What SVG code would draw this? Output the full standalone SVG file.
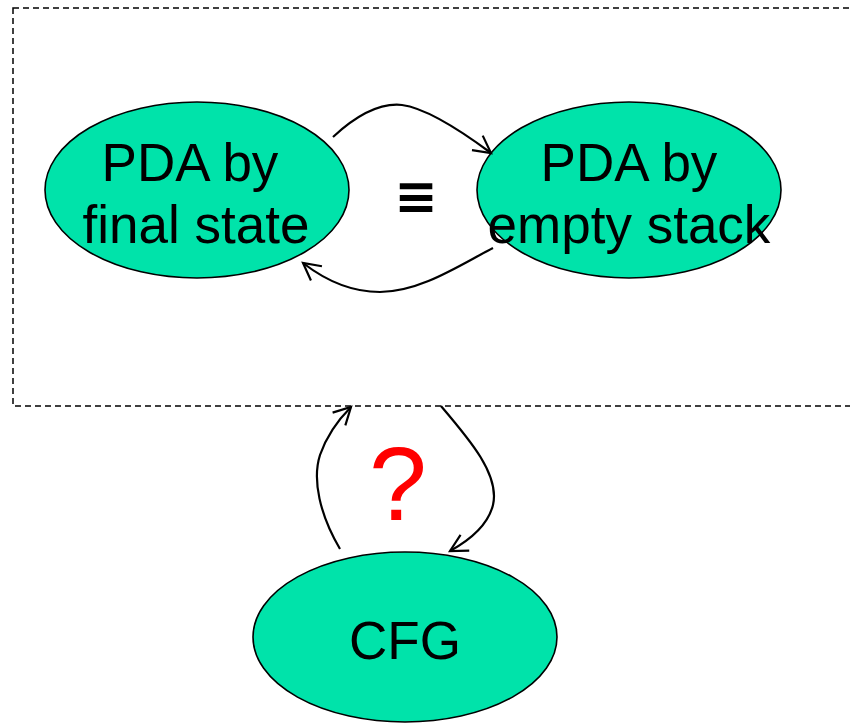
<svg xmlns="http://www.w3.org/2000/svg" width="850" height="725" viewBox="0 0 850 725">
<style>
.node{fill:#00E3AA;stroke:#000;stroke-width:1.6}
.lbl{font-family:"Liberation Sans",Arial,sans-serif;font-size:53px;fill:#000;text-anchor:middle}
.edge{fill:none;stroke:#000;stroke-width:2.2}
</style>
<defs>
<marker id="arr" markerUnits="userSpaceOnUse" markerWidth="24" markerHeight="24" refX="18" refY="10" orient="auto" viewBox="0 0 24 20">
<path d="M1,1 L18,10 L1,19" fill="none" stroke="#000" stroke-width="2.2"/>
</marker>
</defs>
<rect x="13" y="8" width="850" height="398" fill="none" stroke="#000" stroke-width="1.5" stroke-dasharray="6,4"/>
<g id="final">
<ellipse class="node" cx="197" cy="190" rx="152" ry="88"/>
<text class="lbl" x="190" y="181">PDA by</text>
<text class="lbl" x="196" y="243">final state</text>
</g>
<g id="empty">
<ellipse class="node" cx="629" cy="190" rx="152" ry="88"/>
<text class="lbl" x="629" y="181">PDA by</text>
<text class="lbl" x="629" y="243">empty stack</text>
</g>
<g id="cfg">
<ellipse class="node" cx="405" cy="637" rx="152" ry="85"/>
<text class="lbl" x="405" y="659">CFG</text>
</g>
<text x="416" y="214" font-family="DejaVu Sans,sans-serif" font-size="52" font-weight="bold" text-anchor="middle">≡</text>
<text x="398" y="520" font-family="Liberation Sans,Arial,sans-serif" font-size="104" fill="#FF0000" text-anchor="middle">?</text>
<g id="connectors">
<path class="edge" marker-end="url(#arr)" d="M333,137 C360,112 383,103 402,105 C425,108 460,130 491,153"/>
<path class="edge" marker-end="url(#arr)" d="M493,248 C460,265 420,292 380,292 C350,292 325,280 303,263"/>
<path class="edge" marker-end="url(#arr)" d="M340,549 C320,515 312,480 320,455 C327,435 338,420 351,407"/>
<path class="edge" marker-end="url(#arr)" d="M441,406 C470,440 500,475 493,505 C488,525 470,540 450,551"/>
</g>
</svg>
